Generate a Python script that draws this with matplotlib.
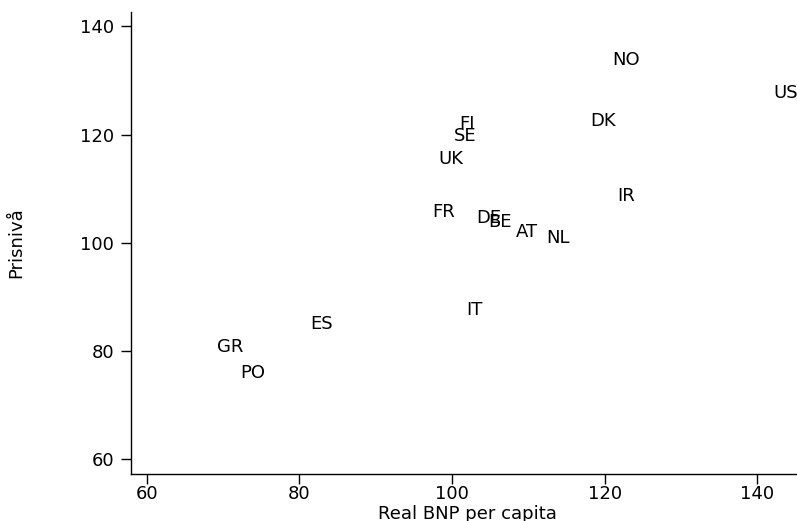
import matplotlib
matplotlib.use('Agg')
import matplotlib.pyplot as plt

countries = ['NO', 'US', 'DK', 'FI', 'SE', 'UK', 'IR', 'FR', 'DE', 'BE',
             'AT', 'NL', 'IT', 'ES', 'GR', 'PO']
bnp = [121.0, 142.1, 118.1, 100.9, 100.3, 98.2, 121.6, 97.4, 103.2, 104.7,
       108.3, 112.3, 101.8, 81.4, 69.2, 72.2]
prisniva = [133.8, 127.8, 122.5, 121.9, 119.7, 115.6, 108.6, 105.7, 104.7,
            103.8, 102.0, 101.0, 87.7, 85.0, 80.7, 75.9]

x_ticks = [60, 80, 100, 120, 140]
y_ticks = [60, 80, 100, 120, 140]

fig = plt.figure(figsize=(7.97, 5.21), dpi=100)
ax = fig.add_axes([0.164, 0.0902, 0.836, 0.887])

for name, x, y in zip(countries, bnp, prisniva):
    ax.text(x, y, name, ha='left', va='center', fontsize=13, clip_on=True)

ax.set_xlim(57.9, 145.2)
ax.set_ylim(57.3, 142.7)
ax.set_xticks(x_ticks)
ax.set_yticks(y_ticks)
ax.tick_params(axis='both', direction='out', length=7, width=1,
               labelsize=13, pad=1)
ax.tick_params(axis='y', pad=5)

for side in ['top', 'right']:
    ax.spines[side].set_visible(False)
for side in ['left', 'bottom']:
    ax.spines[side].set_linewidth(1)

ax.set_xlabel('Real BNP per capita', fontsize=13)
ax.xaxis.set_label_coords(0.505, -0.066)
ax.set_ylabel('Prisnivå', fontsize=13)
ax.yaxis.set_label_coords(-0.158, 0.5)

fig.savefig('out.png', dpi=100)
